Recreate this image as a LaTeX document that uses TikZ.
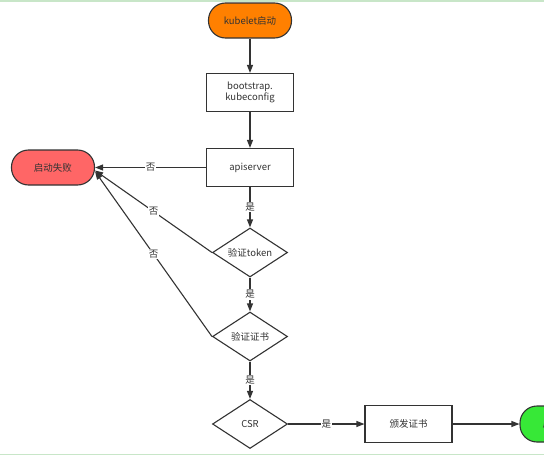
\documentclass[tikz,border=0pt]{standalone}
\usepackage{fontspec}
\setmainfont{Noto Sans CJK SC}
\usepackage{tikz}
\usetikzlibrary{arrows.meta, positioning, shapes.geometric}
\definecolor{kuborange}{RGB}{255,128,0}
\definecolor{failred}{RGB}{255,102,102}
\definecolor{okgreen}{RGB}{55,232,55}
\definecolor{linegray}{RGB}{51,51,51}
\definecolor{framegreen}{RGB}{200,230,200}

\begin{document}
\begin{tikzpicture}[x=1pt,y=-1pt,node distance=75pt,on grid,>={Triangle[length=8pt,width=6pt]},
        every node/.style={font=\fontsize{9.5}{11.5}\selectfont,text=linegray},
        box/.style={draw=linegray,line width=1.1pt,fill=white,minimum width=87pt,minimum height=38pt,align=center},
        term/.style={draw=linegray,line width=1.1pt,rounded corners=17pt,minimum width=83pt,minimum height=35pt},
        test/.style={draw=linegray,line width=1.1pt,fill=white,diamond,aspect=1.5,inner sep=0pt,minimum width=75pt,minimum height=49pt},
        lbl/.style={fill=white,inner sep=1pt}]

        \clip (0,0) rectangle (544,455);
        \draw[framegreen,line width=2pt] (0,1) -- (544,1);
        \draw[framegreen,line width=1pt] (0,454) -- (544,454);

        \node[term,fill=kuborange] (kub) at (250,20.5) {kubelet启动};
        \node[box] (boot) [below=72pt of kub] {bootstrap.\\kubeconfig};
        \node[box] (api) [below=75pt of boot] {apiserver};
        \node[term,fill=failred] (fail) [left=197pt of api] {启动失败};
        \node[test] (tok) [below=85pt of api] {验证token};
        \node[test] (cert) [below=84pt of tok] {验证证书};
        \node[test] (csr) [below=87.5pt of cert] {CSR};
        \node[box,minimum height=37pt] (issue) [right=158.5pt of csr] {颁发证书};
        \node[term,fill=okgreen,minimum height=36pt] (ok) [right=153pt of issue] {启动成功};

        \path[->,linegray,line width=1.1pt] (kub) edge (boot)
                (boot) edge (api)
                (api) edge node[lbl] {否} (fail)
                (api) edge node[lbl] {是} (tok)
                (tok) edge node[lbl] {是} (cert)
                (cert) edge node[lbl] {是} (csr)
                (csr) edge node[lbl] {是} (issue)
                (issue) edge (ok)
                (tok.west) edge node[lbl] {否} ([yshift=-3pt]fail.east)
                (cert.west) edge node[lbl] {否} ([yshift=-4pt]fail.east);
    \end{tikzpicture}
\end{document}
